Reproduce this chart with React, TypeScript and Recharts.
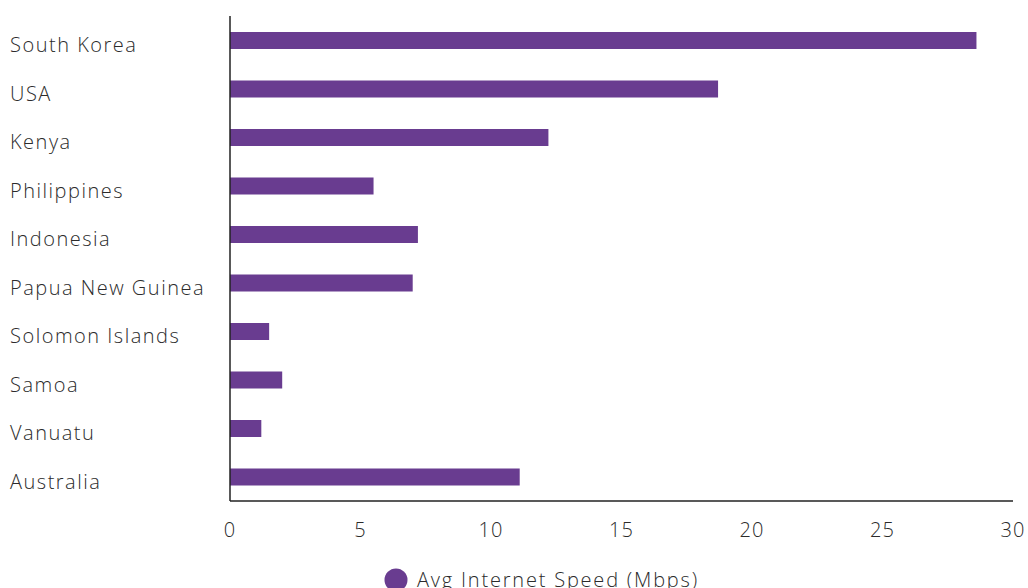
import { Bar, BarChart, XAxis, YAxis } from 'recharts'

const countries = [
  'South Korea',
  'USA',
  'Kenya',
  'Philippines',
  'Indonesia',
  'Papua New Guinea',
  'Solomon Islands',
  'Samoa',
  'Vanuatu',
  'Australia',
]
const speeds = [28.6, 18.7, 12.2, 5.5, 7.2, 7.0, 1.5, 2.0, 1.2, 11.1]
const xTicks = [0, 5, 10, 15, 20, 25, 30]
const seriesName = 'Avg Internet Speed (Mbps)'

const data = countries.map((country, i) => ({ country, speed: speeds[i] }))

const FONT = '"Open Sans", "DejaVu Sans", sans-serif'
const TEXT = '#2b2b2b'
const PURPLE = '#693C90'

function CountryTick({ y, payload }: any) {
  return (
    <text
      x={10}
      y={y}
      dy={12}
      textAnchor="start"
      fill={TEXT}
      fontFamily={FONT}
      fontSize={20}
      fontWeight={300}
      letterSpacing={1.5}
    >
      {payload.value}
    </text>
  )
}

export default function App() {
  return (
    <div style={{ position: 'absolute', left: 0, top: 0, width: 1028, height: 588, background: '#fff', overflow: 'hidden' }}>
      <BarChart
        width={1028}
        height={588}
        data={data}
        layout="vertical"
        barSize={17}
        margin={{ top: 16, right: 15, left: 0, bottom: 0 }}
      >
        <XAxis
          type="number"
          domain={[0, 30]}
          ticks={xTicks}
          tickLine={false}
          axisLine={{ stroke: '#222', strokeWidth: 1.5 }}
          height={87}
          tick={{ fill: TEXT, fontFamily: FONT, fontSize: 20, fontWeight: 300, dy: 14, letterSpacing: 1 }}
        />
        <YAxis
          type="category"
          dataKey="country"
          width={230}
          tickLine={false}
          axisLine={{ stroke: '#222', strokeWidth: 1.5 }}
          tick={<CountryTick />}
        />
        <Bar dataKey="speed" name={seriesName} fill={PURPLE} isAnimationActive={false} />
      </BarChart>
      <div
        style={{
          position: 'absolute',
          left: 384,
          top: 566,
          display: 'flex',
          alignItems: 'center',
          fontFamily: FONT,
          fontSize: 20,
          fontWeight: 300,
          letterSpacing: 1.8,
          color: TEXT,
          whiteSpace: 'nowrap',
        }}
      >
        <svg width={24} height={24} style={{ marginRight: 9 }}>
          <circle cx={12} cy={12} r={11.5} fill={PURPLE} />
        </svg>
        {seriesName}
      </div>
    </div>
  )
}
